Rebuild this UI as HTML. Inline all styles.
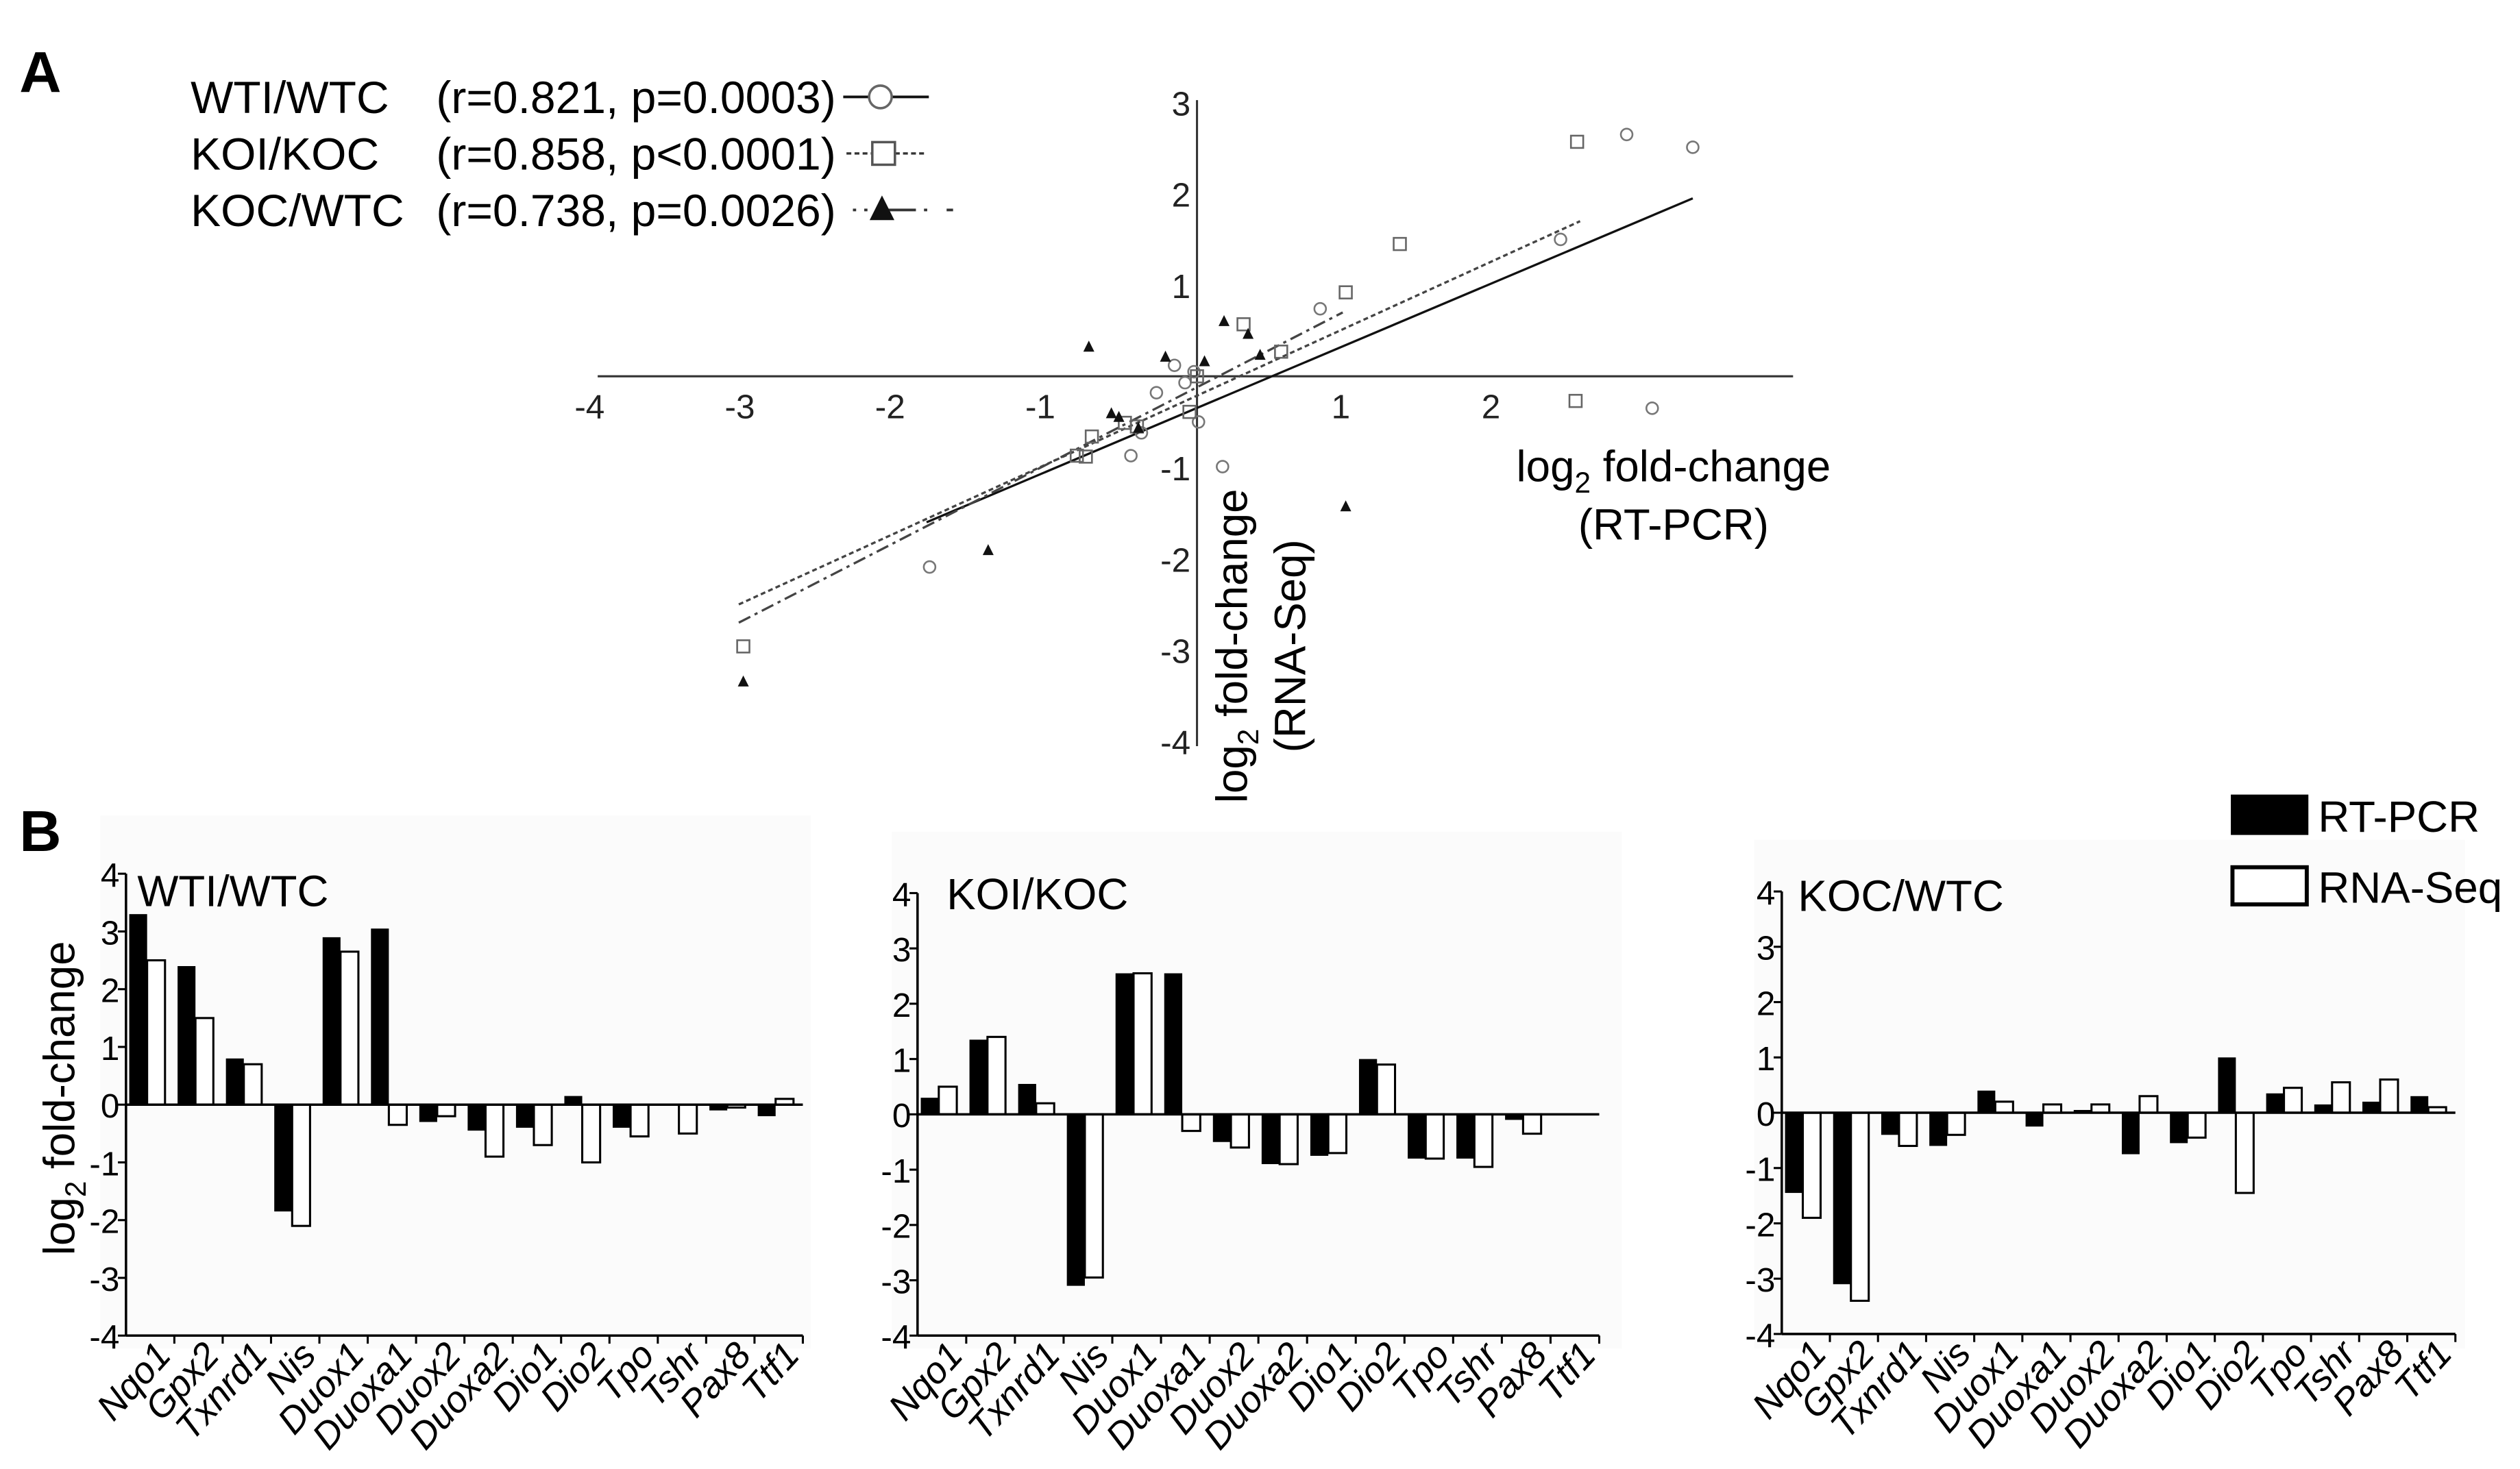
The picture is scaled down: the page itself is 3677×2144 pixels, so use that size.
<!DOCTYPE html>
<html><head><meta charset="utf-8"><style>
html,body{margin:0;padding:0;background:#fff;}
svg{display:block;font-family:"Liberation Sans",Arial,sans-serif;}
</style></head><body>
<svg id="fig" width="3677" height="2144" viewBox="0 0 1560 909.6" xmlns="http://www.w3.org/2000/svg">
<g id="A"></g>
<g id="B"></g>
</svg>
<script>
// ---- Panel A data ----
const wtiX=[2.86,3.30,2.42,0.82,-0.15,-0.08,-0.27,-0.44,-0.37,0.01,0.17,-1.78,3.03,-0.02];
const wtiY=[2.65,2.51,1.50,0.74,0.12,-0.07,-0.18,-0.87,-0.62,-0.50,-0.99,-2.09,-0.35,0.05];
const koiX=[2.53,1.35,0.99,0.31,0.56,0.00,-0.05,-0.70,-0.80,-0.74,-0.48,-3.02,2.52,-0.40];
const koiY=[2.57,1.45,0.92,0.57,0.27,0.00,-0.39,-0.66,-0.87,-0.88,-0.51,-2.96,-0.27,-0.55];
const kocX=[-0.72,-0.21,0.05,0.18,0.34,0.42,-0.57,-0.52,-0.39,0.99,-1.39,-3.02];
const kocY=[0.32,0.21,0.16,0.60,0.46,0.23,-0.41,-0.45,-0.57,-1.43,-1.91,-3.35];
const fitSolid=[-1.8,-1.6,3.3,1.95];
const fitDash=[-3.05,-2.5,2.55,1.7];
const fitDashDot=[-3.05,-2.7,0.97,0.7];
const aTicksX=[-4,-3,-2,-1,1,2];
const aTicksY=[3,2,1,-1,-2,-3,-4];
// ---- Panel B data ----
const genes=["Nqo1","Gpx2","Txnrd1","Nis","Duox1","Duoxa1","Duox2","Duoxa2","Dio1","Dio2","Tpo","Tshr","Pax8","Ttf1"];
const wtiRT=[3.3,2.4,0.8,-1.85,2.9,3.05,-0.3,-0.45,-0.4,0.15,-0.4,-0.02,-0.1,-0.2];
const wtiSeq=[2.5,1.5,0.7,-2.1,2.65,-0.35,-0.2,-0.9,-0.7,-1.0,-0.55,-0.5,-0.05,0.1];
const koiRT=[0.3,1.35,0.55,-3.1,2.55,2.55,-0.5,-0.9,-0.75,1.0,-0.8,-0.8,-0.1,0.0];
const koiSeq=[0.5,1.4,0.2,-2.95,2.55,-0.3,-0.6,-0.9,-0.7,0.9,-0.8,-0.95,-0.35,0.0];
const kocRT=[-1.45,-3.1,-0.4,-0.6,0.4,-0.25,0.05,-0.75,-0.55,1.0,0.35,0.15,0.2,0.3];
const kocSeq=[-1.9,-3.4,-0.6,-0.4,0.2,0.15,0.15,0.3,-0.45,-1.45,0.45,0.55,0.6,0.1];
const bTicks=[4,3,2,1,0,-1,-2,-3,-4];

const NS="http://www.w3.org/2000/svg";
function mk(parent,tag,attrs,text){const e=document.createElementNS(NS,tag);for(const k in attrs)e.setAttribute(k,attrs[k]);if(text!==undefined)e.textContent=text;parent.appendChild(e);return e;}

// ===== Panel A =====
const A=document.getElementById('A');
const ax=v=>741+v*93, ay=v=>233-v*56.5;
let t=mk(A,'text',{x:12,y:57,'font-size':36,'font-weight':'bold'},'A');


let l=mk(A,'line',{x1:370,y1:233,x2:1110,y2:233,stroke:'#333','stroke-width':1.3});


l=mk(A,'line',{x1:741,y1:62,x2:741,y2:462,stroke:'#333','stroke-width':1.3});


aTicksX.forEach(v=>{
  const tk=mk(A,'text',{x:ax(v)-4,y:259,'font-size':21,'text-anchor':'middle',fill:'#222'},String(v));
  
  
});
aTicksY.forEach(v=>{
  const tk=mk(A,'text',{x:737,y:ay(v)+8,'font-size':21,'text-anchor':'end',fill:'#222'},String(v));
  
  
});
t=mk(A,'text',{x:1036,y:298,'font-size':27,'text-anchor':'middle'});


t.innerHTML='log<tspan font-size="18" dy="7">2</tspan><tspan dy="-7"> fold-change</tspan>';
t=mk(A,'text',{x:1036,y:334,'font-size':27,'text-anchor':'middle'},'(RT-PCR)');


const yt=mk(A,'g',{transform:'translate(772,400) rotate(-90)'});


t=mk(yt,'text',{x:0,y:0,'font-size':27,'text-anchor':'middle'});
t.innerHTML='log<tspan font-size="18" dy="7">2</tspan><tspan dy="-7"> fold-change</tspan>';
mk(yt,'text',{x:0,y:36,'font-size':27,'text-anchor':'middle'},'(RNA-Seq)');
function fit(f,dash,name){
  const e=mk(A,'line',{x1:ax(f[0]),y1:ay(f[1]),x2:ax(f[2]),y2:ay(f[3]),stroke:dash?'#444':'#111','stroke-width':1.4,'stroke-dasharray':dash||'none'});
  
  
}
fit(fitSolid,null,'fit-line-wti');
fit(fitDash,'3,2','fit-line-koi');
fit(fitDashDot,'8,3,2,3','fit-line-koc');
function circ(g,x,y){return mk(g,'circle',{cx:x,cy:y,r:3.6,fill:'none',stroke:'#777','stroke-width':1.1});}
function sq(g,x,y){return mk(g,'rect',{x:x-3.8,y:y-3.8,width:7.6,height:7.6,fill:'none',stroke:'#666','stroke-width':1.1});}
function tri(g,x,y,s){s=s||4;return mk(g,'polygon',{points:`${x},${y-s} ${x-s*0.85},${y+s*0.7} ${x+s*0.85},${y+s*0.7}`,fill:'#111'});}
wtiX.forEach((v,i)=>{const e=circ(A,ax(v),ay(wtiY[i]));
  
  });
koiX.forEach((v,i)=>{const e=sq(A,ax(v),ay(koiY[i]));
  
  });
kocX.forEach((v,i)=>{const e=tri(A,ax(v),ay(kocY[i]));
  
  });
// legend
const leg=[["WTI/WTC","(r=0.821, p=0.0003)",60],["KOI/KOC","(r=0.858, p<0.0001)",95],["KOC/WTC","(r=0.738, p=0.0026)",130]];
leg.forEach((r,i)=>{
  const g=mk(A,'g',{});
  
  
  mk(g,'text',{x:118,y:r[2]+10,'font-size':28},r[0]);
  mk(g,'text',{x:270,y:r[2]+10,'font-size':28},r[1]);
  const y=r[2];
  if(i===0){mk(g,'line',{x1:522,y1:y,x2:575,y2:y,stroke:'#111','stroke-width':1.6});mk(g,'circle',{cx:545,cy:y,r:7,fill:'#fff',stroke:'#666','stroke-width':1.5});}
  if(i===1){mk(g,'line',{x1:524,y1:y,x2:572,y2:y,stroke:'#333','stroke-width':1.4,'stroke-dasharray':'3,2'});mk(g,'rect',{x:540,y:y-7,width:14,height:14,fill:'#fff',stroke:'#555','stroke-width':1.5});}
  if(i===2){mk(g,'line',{x1:528,y1:y,x2:590,y2:y,stroke:'#333','stroke-width':1.6,'stroke-dasharray':'2,5,2,12,16,0'});tri(g,546,y,9);}
});

// ===== Panel B =====
const B=document.getElementById('B');
t=mk(B,'text',{x:12,y:527,'font-size':36,'font-weight':'bold'},'B');


const panels=[
 {name:'wti-wtc',title:'WTI/WTC',x0:78,x1:497,y4:541,y0:684,bg:[62,505,440,330],rt:wtiRT,seq:wtiSeq,ttl:[85,561]},
 {name:'koi-koc',title:'KOI/KOC',x0:568,x1:990,y4:553,y0:690,bg:[552,515,452,320],rt:koiRT,seq:koiSeq,ttl:[586,563]},
 {name:'koc-wtc',title:'KOC/WTC',x0:1103,x1:1520,y4:552,y0:689,bg:[1086,520,440,315],rt:kocRT,seq:kocSeq,ttl:[1113,564]}
];
panels.forEach(p=>{
  const g=mk(B,'g',{});
  
  
  mk(g,'rect',{x:p.bg[0],y:p.bg[1],width:p.bg[2],height:p.bg[3],fill:'#fbfbfb'});
  const u=(p.y0-p.y4)/4, yv=v=>p.y0-v*u;
  const cw=(p.x1-p.x0)/genes.length, bw=cw*0.37;
  const tt=mk(g,'text',{x:p.ttl[0],y:p.ttl[1],'font-size':27},p.title);
  
  
  genes.forEach((gn,i)=>{
    const cx=p.x0+i*cw+2;
    const a=p.rt[i], b=p.seq[i];
    const r1=mk(g,'rect',{x:cx,y:Math.min(yv(a),p.y0),width:bw,height:Math.abs(yv(a)-p.y0),fill:'#000'});
    
    
    const r2=mk(g,'rect',{x:cx+bw,y:Math.min(yv(b),p.y0),width:bw,height:Math.abs(yv(b)-p.y0),fill:'#fff',stroke:'#000','stroke-width':1.3});
    
    
    const tx=p.x0+(i+1)*cw;
    mk(g,'line',{x1:tx,y1:p.y4+8*u,x2:tx,y2:p.y4+8*u+5,stroke:'#000','stroke-width':1.3});
    const lb=mk(g,'text',{x:0,y:0,'font-size':23,'font-style':'italic','text-anchor':'end',transform:`translate(${tx-1},${p.y4+8*u+13}) rotate(-48)`},gn);
    
    
  });
  mk(g,'line',{x1:p.x0,y1:p.y0,x2:p.x1,y2:p.y0,stroke:'#000','stroke-width':1.5});
  mk(g,'line',{x1:p.x0,y1:p.y4,x2:p.x0,y2:p.y4+8*u,stroke:'#000','stroke-width':1.5});
  mk(g,'line',{x1:p.x0,y1:p.y4+8*u,x2:p.x1,y2:p.y4+8*u,stroke:'#000','stroke-width':1.5});
  bTicks.forEach(v=>{
    mk(g,'line',{x1:p.x0-5,y1:yv(v),x2:p.x0,y2:yv(v),stroke:'#000','stroke-width':1.3});
    const tk=mk(g,'text',{x:p.x0-4,y:yv(v)+8,'font-size':21,'text-anchor':'end'},String(v));
    
    
  });
});
const byt=mk(B,'g',{transform:'translate(46,680) rotate(-90)'});


t=mk(byt,'text',{x:0,y:0,'font-size':27,'text-anchor':'middle'});
t.innerHTML='log<tspan font-size="18" dy="7">2</tspan><tspan dy="-7"> fold-change</tspan>';
let lg=mk(B,'g',{});


mk(lg,'rect',{x:1381,y:492,width:48,height:25,fill:'#000'});
mk(lg,'text',{x:1435,y:515,'font-size':27},'RT-PCR');
lg=mk(B,'g',{});


mk(lg,'rect',{x:1382,y:537,width:46,height:23,fill:'#fff',stroke:'#000','stroke-width':2.5});
mk(lg,'text',{x:1435,y:559,'font-size':27},'RNA-Seq');
</script>
</body></html>
